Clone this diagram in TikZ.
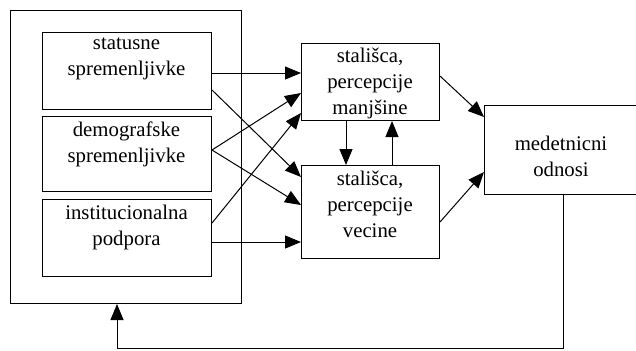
\documentclass[tikz,border=0pt]{standalone}
\usepackage{fontspec}
\setmainfont{Liberation Serif}
\usetikzlibrary{arrows.meta,calc}
\tikzset{
  box/.style={draw, line width=0.5pt, rectangle, inner sep=0pt, anchor=north west},
  lbl/.style={align=center, inner sep=0pt, font=\fontsize{10.4}{13}\selectfont},
  arr/.style={line width=0.5pt, -{Triangle[length=8pt,width=6.5pt]}},
}
\begin{document}
\begin{tikzpicture}[x=0.5pt,y=-0.5pt]
\useasboundingbox (0,0) rectangle (636,350);
\clip (0,0) rectangle (636,350);
% boxes
\node[box, minimum width=115.5pt, minimum height=146.5pt] (outer) at (10,10) {};
\node[box, minimum width=84.5pt, minimum height=38.5pt] (stat) at (42,32) {};
\node[box, minimum width=84.5pt, minimum height=37.5pt] (demo) at (42,116) {};
\node[box, minimum width=84.5pt, minimum height=38.5pt] (inst) at (42,199) {};
\node[box, minimum width=69pt, minimum height=38.5pt] (manj) at (301,43) {};
\node[box, minimum width=69pt, minimum height=46.5pt] (vec) at (301,165) {};
\node[box, minimum width=77pt, minimum height=44.5pt] (med) at (484,105) {};
% texts
\node[lbl] (statT) at (126.5,58.5) {statusne\\spremenljivke};
\node[lbl] (demoT) at (126.5,144) {demografske\\spremenljivke};
\node[lbl] (instT) at (126.5,227) {institucionalna\\podpora};
\node[lbl] (manjT) at (370,83.5) {stališca,\\percepcije\\manjšine};
\node[lbl] (vecT) at (370,204.5) {stališca,\\percepcije\\vecine};
\node[lbl] (medT) at (561,156.5) {medetnicni\\odnosi};
% connectors
\draw[arr] ($(stat.north east)+(0,41)$) -- ($(manj.north west)+(0,30)$);
\draw[arr] ($(stat.north east)+(0,58)$) -- ($(vec.north west)+(0,12)$);
\draw[arr] ($(demo.north east)+(0,34)$) -- ($(manj.north west)+(0,50)$);
\draw[arr] ($(demo.north east)+(0,34)$) -- ($(vec.north west)+(0,40)$);
\draw[arr] ($(inst.north east)+(0,24)$) -- ($(manj.north west)+(0,70)$);
\draw[arr] ($(inst.north east)+(0,43)$) -- ($(vec.north west)+(0,77)$);
\draw[arr] ($(manj.south west)+(45,0)$) -- ($(vec.north west)+(45,0)$);
\draw[arr] ($(vec.north west)+(91,0)$) -- ($(manj.south west)+(91,0)$);
\draw[arr] ($(manj.north east)+(0,33)$) -- ($(med.north west)+(0,12)$);
\draw[arr] ($(vec.north east)+(0,57)$) -- ($(med.north west)+(0,67)$);
\coordinate (fbR) at (563,348);
\coordinate (fbL) at (117,348);
\draw[arr] (fbR |- med.south) -- (fbR) -- (fbL) -- (fbL |- outer.south);
\end{tikzpicture}
\end{document}
